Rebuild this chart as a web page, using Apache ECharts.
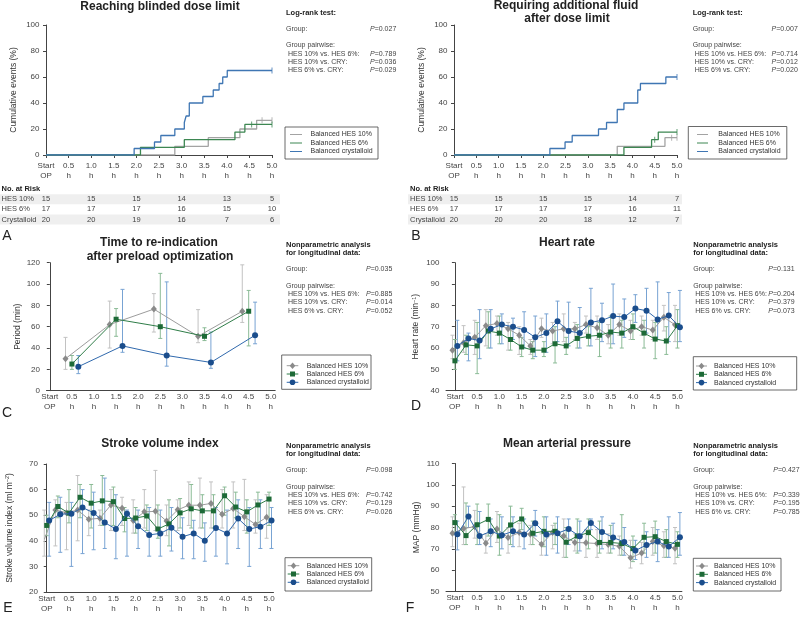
<!DOCTYPE html>
<html><head><meta charset="utf-8">
<script src="https://cdn.jsdelivr.net/npm/echarts@6/dist/echarts.min.js"></script>
<style>html,body{margin:0;padding:0;background:#fff}#c{width:800px;height:619px}</style>
</head><body><div id="c"></div>
<script>
const FONT = '"Liberation Sans", Arial, Helvetica, sans-serif';

// ---------- shared axis data ----------
const xTickValues = [0,0.5,1,1.5,2,2.5,3,3.5,4,4.5,5];
const xTickLabels = ['Start\nOP','0.5\nh','1.0\nh','1.5\nh','2.0\nh','2.5\nh','3.0\nh','3.5\nh','4.0\nh','4.5\nh','5.0\nh'];
const groupNames = ['Balanced HES 10%','Balanced HES 6%','Balanced crystalloid'];

// ---------- Panel A: Kaplan-Meier (cumulative events %) ----------
const kmA_hes10 = [[0,0],[2.85,6.67],[3.59,13.33],[4.29,20],[4.66,26.67],[5,26.67]];
const kmA_hes6  = [[0,0],[2.09,5.88],[3.06,11.76],[4.18,17.65],[4.40,23.53],[5,23.53]];
const kmA_cry   = [[0,0],[1.95,5],[2.40,10],[2.54,15],[2.85,20],[3.06,25],[3.10,30],[3.17,40],[3.47,45],[3.70,50],[3.83,55],[3.91,60],[4.01,65],[5,65]];
const censA_hes10 = [[4.78,26.67],[5,26.67]];
const censA_hes6  = [[4.55,23.53],[5,23.53]];
const censA_cry   = [[5,65]];

// ---------- Panel B ----------
const kmB_hes10 = [[0,0],[3.66,6.67],[4.73,13.33],[5,13.33]];
const kmB_hes6  = [[0,0],[3.81,5.88],[4.43,11.76],[4.58,17.65],[5,17.65]];
const kmB_cry   = [[0,0],[2.15,5],[2.49,10],[2.65,15],[3.24,20],[3.42,25],[3.66,35],[3.81,40],[4.12,50],[4.18,55],[4.75,60],[5,60]];
const censB_hes10 = [[4.88,13.33],[5,13.33]];
const censB_hes6  = [[4.5,11.76],[5,17.65]];
const censB_cry   = [[5,60]];

// ---------- risk tables ----------
const riskHours = [0,1,2,3,4,5];
const riskRowLabels = ['HES 10%','HES 6%','Crystalloid'];
const riskA_hes10 = [15,15,15,14,13,5];
const riskA_hes6  = [17,17,17,16,15,10];
const riskA_cry   = [20,20,19,16,7,6];
const riskB_hes10 = [15,15,15,15,14,7];
const riskB_hes6  = [17,17,17,17,16,11];
const riskB_cry   = [20,20,20,18,12,7];

// ---------- Panel C: time to re-indication ----------
const cTimes = [0.5,1.5,2.5,3.5,4.5];
const cHes10 = [30,62,76.5,51,74.5];   const cHes10Lo = [20,40,55,45,64];  const cHes10Hi = [50,84,91,76,118];
const cHes6  = [25,67,60,51,74.5];     const cHes6Lo  = [20,51,49,47,42];  const cHes6Hi  = [33,77,110,59,94];
const cCry   = [22.5,42,33,26.5,52];   const cCryLo   = [16,36,23,21,44];  const cCryHi   = [33,95,102,55,83];

// ---------- Panels D/E/F: repeated measurements ----------
const timePoints = [0,0.25,0.5,0.75,1,1.25,1.5,1.75,2,2.25,2.5,2.75,3,3.25,3.5,3.75,4,4.25,4.5,4.75,5];

const dHes10   = [59,62.5,65,70.5,71.5,69,66,61,69,68,69,69,71,69.5,66,71,68,70,68.4,74.4,70.9];
const dHes10Lo = [55,58,57,61,66,59,57,57,65,62,63,64,67,64,62,66,64,66,64,68,63];
const dHes10Hi = [66,70.5,73,78,75,72,70,64,74,72,76,72,75,75,71,76,73,75,73,80,80];
const dHes6    = [54,61.5,61,68,67,64,60.5,59,59,62,61,64.5,65.5,66,67.5,67,70,67,64.2,63.3,70.5];
const dHes6Lo  = [50,57,48,60,62,59,56,55,56,53,57,60,61,56,60,60,64,60,55,57,60];
const dHes6Hi  = [64,66,72,77,75,69,65,63,63,70,65,71,70,72,75,73,76,73,72,70,78];
const dCry     = [61,64.5,63.5,69,71,70,68.5,65,67,72.5,68,67,72,73,75,74.5,78.5,77.5,73.4,75.2,69.7];
const dCryLo   = [54,54,55,60,62,64,60,56,58,63,61,60,61,63,62,65,72,67,64,63,63];
const dCryHi   = [73,67,78,78,76,74,77,75,76,82,81.5,79,88,81,90,83,85,88,91,86,87];

const eHes10   = [40.5,52,51,52,48.4,48.8,54,52.7,47.9,51.3,51.5,47.7,52.1,53.9,53.9,54.6,50.4,52.6,49.4,46.4,49.2];
const eHes10Lo = [34,38,36.5,40,42,46,44,46,43,45,44,42,44,46,45,45,45,45,44,43,41];
const eHes10Hi = [52,56,55,65.5,52,52,60,57,56,60,67.5,54,56,63,64.5,63,60,63,64,56,58];
const eHes6    = [46,53.4,50.8,57,54.7,55.6,55.3,48.7,48.9,49.7,44.6,46.6,50.9,52.5,51.7,51.7,57.6,53.2,51.3,54,56.3];
const eHes6Lo  = [42,49,47,49,45,46,46,43.5,43,44,41,38,45,45,45,45,50,49,43,47,46];
const eHes6Hi  = [50,57.5,60,62,62,65.5,61,53,53,54,54,56,56.5,62,58,58,61,59,56,59,59];
const eCry     = [47.9,50.4,50.6,53,50.9,47.1,44.6,50.6,45.7,42.3,42.9,45.1,41.6,42.9,40,45,42.9,48.7,44.6,45.5,47.9];
const eCryLo   = [34,35.5,30,35,36.5,37,33,34,37,34,34,36,33,33,32,34,31,37,30,37,37];
const eCryHi   = [55,57,55,60,59,64.5,58,52,52,53,52,53,49,48,47,53,52,56,53,56,53];

const fHes10   = [77.3,79.5,80.4,72.6,79.3,75.3,77.6,76.8,72.1,77.6,76,73,72.8,72.5,72,71.2,65.8,68,73.4,71.4,70.3];
const fHes10Lo = [71,72,75,68,73,68,71,72,67,70,66,69,66,66,68,67,61,63,67,66,63];
const fHes10Hi = [85,99,88,77,87.5,80,82,81,77,81,84,77,79,79,77,76,74,73,80,78,80];
const fHes6    = [82.3,76.2,81.3,83.8,76,81.2,84,77.3,78.2,78.2,73.1,76,77.6,73,73,72.5,70.1,75.4,75.7,73.4,72.1];
const fHes6Lo  = [77,72,72,76,67,72,79,72,71,72,66,68,70,68,68,67,64,68,68,66,66];
const fHes6Hi  = [86,91.5,91,91,86,90,89,83,85,82,80,84,84,83,81,86,76,82,83,79,78];
const fCry     = [76.8,85.1,76,78.2,76.4,78.2,76.7,82,76.7,77.3,79.3,75.9,82.1,77.9,75.3,73.2,69.2,71.8,73.4,71.1,75.4];
const fCryLo   = [69.5,80,72,71,70,71,70,76,67,68,72,69,79,70,70,67,65,66,64,66,67];
const fCryHi   = [83,90,87.5,84,85,85,84,88,85,85,84,83,84,85,82,80,74,78,79,85,87];

// ---------- statistics text ----------
const pairLabels = [' HES 10% vs. HES 6%:',' HES 10% vs. CRY:',' HES 6% vs. CRY:'];
const statsA = ['0.027','0.789','0.036','0.029'];
const statsB = ['0.007','0.714','0.012','0.020'];
const statsC = ['0.035','0.885','0.014','0.052'];
const statsD = ['0.131','0.204','0.379','0.073'];
const statsE = ['0.098','0.742','0.129','0.026'];
const statsF = ['0.427','0.339','0.195','0.785'];

// ---------- styles ----------
const kmColors = ['#a3a3a3','#3d8752','#3f76b3'];
const grpStyle = [
  {marker:'#8a8a8a', line:'#9c9c9c', err:'#c2c2c2', symbol:'diamond', size:[6,7]},
  {marker:'#1d6a37', line:'#2f7d48', err:'#8bbb96', symbol:'rect', size:5},
  {marker:'#1a4d8c', line:'#3069ad', err:'#78a3d3', symbol:'circle', size:6}
];

const grids = [
  {left:46, top:25, width:226, height:130},
  {left:454, top:25, width:223, height:130},
  {left:46.5, top:262.7, width:228.7, height:128},
  {left:446, top:262.7, width:235.9, height:128},
  {left:44.5, top:464, width:229, height:128},
  {left:446, top:463.5, width:235.9, height:128}
];
const xRange = [[0,5],[0,5],[-0.075,5.1],[-0.2,5.1],[-0.05,5.1],[-0.2,5.1]];

function xAxisCfg(i){
  const km = i < 2;
  return {type:'value', gridIndex:i, min:xRange[i][0], max:xRange[i][1],
    axisLine:{show:true, onZero:false, lineStyle:{color:'#444', width:1}},
    axisTick:{show:km, length:3, customValues:xTickValues, lineStyle:{color:'#444'}},
    axisLabel:{customValues:xTickValues, formatter:v => xTickLabels[Math.round(v*2)],
      fontSize:8, lineHeight:10, color:'#444', fontFamily:FONT, margin: km ? 6 : 1.5},
    splitLine:{show:false}};
}
function yAxisCfg(i, min, max, interval, name, gap){
  return {type:'value', gridIndex:i, min, max, interval, name, nameLocation:'middle', nameGap:gap,
    nameTextStyle:{fontSize:8.5, color:'#333', fontFamily:FONT,
      rich:{sup:{fontSize:5.5, fontFamily:FONT, color:'#333', verticalAlign:'top', padding:[0,0,4,0]}}},
    axisLine:{show:true, lineStyle:{color:'#444', width:1}},
    axisTick:{show:true, length:3, lineStyle:{color:'#444'}},
    axisLabel:{fontSize:8, color:'#444', fontFamily:FONT, margin:6.5},
    splitLine:{show:false}};
}

const xAxes = [0,1,2,3,4,5].map(xAxisCfg);
const yAxes = [
  yAxisCfg(0,0,100,20,'Cumulative events (%)',28),
  yAxisCfg(1,0,100,20,'Cumulative events (%)',28),
  yAxisCfg(2,0,120,20,'Period (min)',24),
  yAxisCfg(3,40,100,10,'Heart rate (min{sup|−1})',25),
  yAxisCfg(4,20,70,10,'Stroke volume index (ml m{sup|−2})',30),
  yAxisCfg(5,50,110,10,'MAP (mmHg)',25)
];

const series = [];
function kmPanel(pi, curves, cens){
  curves.forEach((d,g)=>{
    series.push({type:'line', name:groupNames[g], xAxisIndex:pi, yAxisIndex:pi, data:d, step:'end',
      showSymbol:false, symbol:'none', lineStyle:{color:kmColors[g], width:1.3}, itemStyle:{color:kmColors[g]}, z:3+g});
  });
  cens.forEach((d,g)=>{
    series.push({type:'scatter', name:groupNames[g], xAxisIndex:pi, yAxisIndex:pi, data:d,
      symbol:'rect', symbolSize:[1,6], itemStyle:{color:kmColors[g]}, z:6});
  });
}
function errRenderer(color){
  return function(params, api){
    const x = api.value(0), lo = api.value(1), hi = api.value(2);
    const a = api.coord([x, lo]), b = api.coord([x, hi]);
    const cap = 2;
    const st = {stroke:color, lineWidth:1, fill:null};
    return {type:'group', children:[
      {type:'line', shape:{x1:a[0], y1:a[1], x2:b[0], y2:b[1]}, style:st},
      {type:'line', shape:{x1:a[0]-cap, y1:a[1], x2:a[0]+cap, y2:a[1]}, style:st},
      {type:'line', shape:{x1:b[0]-cap, y1:b[1], x2:b[0]+cap, y2:b[1]}, style:st}
    ]};
  };
}
function meanPanel(pi, times, groups, dodge){
  groups.forEach((g,k)=>{
    const off = (k-1)*dodge;
    const s = grpStyle[k];
    series.push({type:'custom', name:groupNames[k], xAxisIndex:pi, yAxisIndex:pi,
      data: times.map((t,j)=>[t+off, g.lo[j], g.hi[j]]), encode:{x:0, y:[1,2]},
      renderItem: errRenderer(s.err), z:2, silent:true});
  });
  groups.forEach((g,k)=>{
    const off = (k-1)*dodge;
    const s = grpStyle[k];
    series.push({type:'line', name:groupNames[k], xAxisIndex:pi, yAxisIndex:pi,
      data: times.map((t,j)=>[t+off, g.mean[j]]), symbol:s.symbol, symbolSize:s.size, showSymbol:true,
      lineStyle:{color:s.line, width:1}, itemStyle:{color:s.marker}, z:5+k});
  });
}

kmPanel(0,[kmA_hes10,kmA_hes6,kmA_cry],[censA_hes10,censA_hes6,censA_cry]);
kmPanel(1,[kmB_hes10,kmB_hes6,kmB_cry],[censB_hes10,censB_hes6,censB_cry]);
meanPanel(2, cTimes, [{mean:cHes10,lo:cHes10Lo,hi:cHes10Hi},{mean:cHes6,lo:cHes6Lo,hi:cHes6Hi},{mean:cCry,lo:cCryLo,hi:cCryHi}], 0.145);
meanPanel(3, timePoints, [{mean:dHes10,lo:dHes10Lo,hi:dHes10Hi},{mean:dHes6,lo:dHes6Lo,hi:dHes6Hi},{mean:dCry,lo:dCryLo,hi:dCryHi}], 0.055);
meanPanel(4, timePoints, [{mean:eHes10,lo:eHes10Lo,hi:eHes10Hi},{mean:eHes6,lo:eHes6Lo,hi:eHes6Hi},{mean:eCry,lo:eCryLo,hi:eCryHi}], 0.055);
meanPanel(5, timePoints, [{mean:fHes10,lo:fHes10Lo,hi:fHes10Hi},{mean:fHes6,lo:fHes6Lo,hi:fHes6Hi},{mean:fCry,lo:fCryLo,hi:fCryHi}], 0.055);

const chart = echarts.init(document.getElementById('c'), null, {renderer:'canvas', width:800, height:619});
chart.setOption({animation:false, backgroundColor:'#fff', grid:grids, xAxis:xAxes, yAxis:yAxes, series:series});

// ---------- graphics: titles, stats, legends, tables, letters ----------
function txt(x, y, text, o){
  return {type:'text', x, y, silent:true, z:10,
    style:Object.assign({text, fontFamily:FONT, fontSize:7, fill:'#444', align:'left', verticalAlign:'middle'}, o||{})};
}
function ptxt(x, y, v){
  return {type:'text', x, y, silent:true, z:10,
    style:{text:'{i|P}=' + v, fontFamily:FONT, fontSize:7, fill:'#444', align:'left', verticalAlign:'middle',
      rich:{i:{fontStyle:'italic', fontFamily:FONT, fontSize:7, fill:'#444'}}}};
}
const els = [];
function title(x, y, t){ els.push(txt(x, y, t, {fontSize:12, fontWeight:'bold', fill:'#222', align:'center'})); }
title(160, 7, 'Reaching blinded dose limit');
title(566, 6, 'Requiring additional fluid');
title(567, 18.5, 'after dose limit');
title(159, 243, 'Time to re-indication');
title(160, 256.5, 'after preload optimization');
title(567, 243, 'Heart rate');
title(160, 443.5, 'Stroke volume index');
title(567, 443.5, 'Mean arterial pressure');

function stats(x, pX, yHead, heads, pv){
  heads.forEach((h,i)=> els.push(txt(x, yHead + i*8.3, h, {fontWeight:'bold', fontSize:7.5, fill:'#222'})));
  const yg = yHead + (heads.length === 1 ? 16 : 24.3);
  els.push(txt(x, yg, 'Group:')); els.push(ptxt(pX, yg, pv[0]));
  els.push(txt(x, yg + 16.5, 'Group pairwise:'));
  pairLabels.forEach((l,i)=>{ const yy = yg + 24.8 + i*8.3; els.push(txt(x, yy, l)); els.push(ptxt(pX, yy, pv[i+1])); });
}
stats(286, 370, 13, ['Log-rank test:'], statsA);
stats(692.7, 771.5, 13, ['Log-rank test:'], statsB);
stats(286, 366, 245, ['Nonparametric analysis','for longitudinal data:'], statsC);
stats(693.3, 768.3, 245, ['Nonparametric analysis','for longitudinal data:'], statsD);
stats(286, 366, 446, ['Nonparametric analysis','for longitudinal data:'], statsE);
stats(693.3, 773.3, 446, ['Nonparametric analysis','for longitudinal data:'], statsF);

function legend(bx, by, bw, bh, s1, s2, tx, y0, dy, marker){
  els.push({type:'rect', silent:true, z:9, shape:{x:bx, y:by, width:bw, height:bh}, style:{fill:'#fff', stroke:'#444', lineWidth:0.8}});
  groupNames.forEach((n,k)=>{
    const y = y0 + k*dy;
    const col = marker ? grpStyle[k].line : kmColors[k];
    els.push({type:'line', silent:true, z:10, shape:{x1:s1, y1:y, x2:s2, y2:y}, style:{stroke:col, lineWidth:1}});
    if (marker){
      const cx = (s1+s2)/2, mc = grpStyle[k].marker;
      if (k===0) els.push({type:'polygon', silent:true, z:11, shape:{points:[[cx,y-3.2],[cx+2.8,y],[cx,y+3.2],[cx-2.8,y]]}, style:{fill:mc}});
      else if (k===1) els.push({type:'rect', silent:true, z:11, shape:{x:cx-2.5, y:y-2.5, width:5, height:5}, style:{fill:mc}});
      else els.push({type:'circle', silent:true, z:11, shape:{cx:cx, cy:y, r:2.8}, style:{fill:mc}});
    }
    els.push(txt(tx, y, n, {fill:'#333'}));
  });
}
legend(285, 127, 93, 32, 290, 302, 310.5, 134.5, 8.5, false);
legend(688.3, 126.5, 98.5, 32.5, 697, 708, 718.3, 134.5, 8.5, false);
legend(281.7, 355, 89.3, 34.3, 286.7, 298.3, 306.7, 365.7, 8.3, true);
legend(693.3, 356.7, 103.4, 33.3, 696, 707, 714, 366, 8.3, true);
legend(285, 557.7, 86.7, 33.3, 287.7, 299.3, 306.7, 565.7, 8.3, true);
legend(693.3, 558.3, 87.7, 32.7, 696, 708, 714, 566, 8.3, true);

function riskTable(ai, labelX, shadeX1, shadeX2, rows){
  const ys = [199.3, 209.3, 219.5];
  els.push(txt(labelX, 189, 'No. at Risk', {fontWeight:'bold', fontSize:7.5, fill:'#222'}));
  [0,2].forEach(r => els.push({type:'rect', silent:true, z:1, shape:{x:shadeX1, y:ys[r]-5, width:shadeX2-shadeX1, height:10}, style:{fill:'#efefef'}}));
  rows.forEach((vals,r)=>{
    els.push(txt(labelX, ys[r], riskRowLabels[r], {fontSize:7.5}));
    vals.forEach((v,j)=>{
      const px = chart.convertToPixel({xAxisIndex:ai}, riskHours[j]);
      els.push(txt(px, ys[r], String(v), {fontSize:7.5, align:'center'}));
    });
  });
}
riskTable(0, 1.5, 0, 280, [riskA_hes10, riskA_hes6, riskA_cry]);
riskTable(1, 410, 408, 682, [riskB_hes10, riskB_hes6, riskB_cry]);

function letter(x, y, t){ els.push(txt(x, y, t, {fontSize:14, fill:'#222', align:'center'})); }
letter(7, 236, 'A'); letter(416, 236, 'B');
letter(7, 413, 'C'); letter(416, 406, 'D');
letter(8, 608, 'E'); letter(410, 608, 'F');

chart.setOption({graphic:{elements:els}});
</script></body></html>
